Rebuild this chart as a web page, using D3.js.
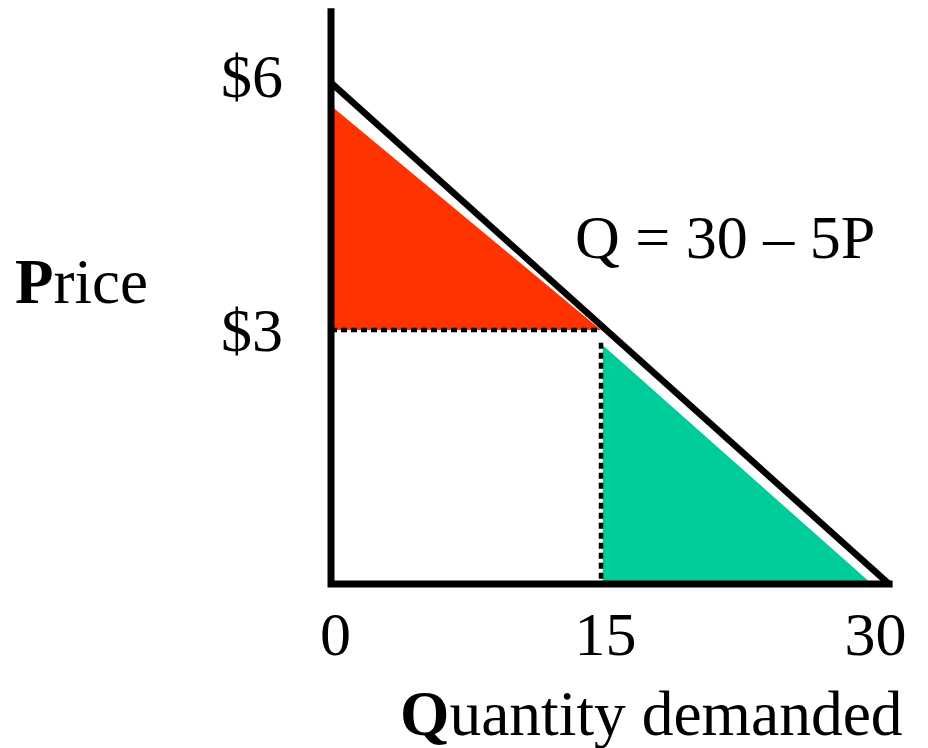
<!DOCTYPE html>
<html>
<head>
<meta charset="utf-8">
<script src="https://cdn.jsdelivr.net/npm/d3@7"></script>
<style>
  body { margin: 0; background: #fff; }
  svg text { font-family: "Liberation Serif", "Times New Roman", serif; fill: #000; }
</style>
</head>
<body>
<svg class="demand" width="928" height="748"></svg>
<script>
// demand curve Q = 30 - 5P, values in (quantity, price)
var demandLine = [{q: 0, p: 5.92}, {q: 31, p: 0}];
var consumerSurplus = [{q: 0, p: 5.65}, {q: 15, p: 3}, {q: 0, p: 3}];
var deadweightArea = [{q: 15.1, p: 2.82}, {q: 15.1, p: 0}, {q: 30.05, p: 0}];
var priceLine = [{q: 0, p: 3}, {q: 15, p: 3}];
var quantityLine = [{q: 15, p: 2.85}, {q: 15, p: 0}];
var priceTicks = [6, 3];
var priceTickLabels = ['$6', '$3'];
var qtyTicks = [0, 15, 30];
var axisTop = 6.8, axisRight = 31.2;

var svg = d3.select('svg.demand');

// scales
var xScale = d3.scaleLinear().domain([0, 30]).range([331, 871]);
var yScale = d3.scaleLinear().domain([0, 6]).range([584, 76]);

var line = d3.line()
    .x(function(d) { return xScale(d.q); })
    .y(function(d) { return yScale(d.p); });

// shaded areas
svg.append('path')
    .attr('d', line(consumerSurplus) + 'Z')
    .attr('fill', '#FF3300');
svg.append('path')
    .attr('d', line(deadweightArea) + 'Z')
    .attr('fill', '#00CC99');

// dotted guides
[priceLine, quantityLine].forEach(function(seg) {
  svg.append('path')
      .attr('d', line(seg))
      .attr('fill', 'none')
      .attr('stroke', '#000')
      .attr('stroke-width', 4.5)
      .attr('stroke-dasharray', '6,4');
});

// demand line
svg.append('path')
    .attr('d', line(demandLine))
    .attr('fill', 'none')
    .attr('stroke', '#000')
    .attr('stroke-width', 6.5);

// axes lines
svg.append('path')
    .attr('d', line([{q: 0, p: axisTop}, {q: 0, p: 0}, {q: axisRight, p: 0}]))
    .attr('fill', 'none')
    .attr('stroke', '#000')
    .attr('stroke-width', 7)
    .attr('stroke-linejoin', 'miter');

// y ticks
var yAxisG = svg.append('g')
    .attr('transform', 'translate(' + xScale(0) + ',0)')
    .call(d3.axisLeft(yScale)
        .tickValues(priceTicks)
        .tickSize(0)
        .tickPadding(48)
        .tickFormat(function(d, i) { return priceTickLabels[i]; }));
yAxisG.select('.domain').remove();
yAxisG.selectAll('text')
    .attr('font-size', 62)
    .attr('font-family', '"Liberation Serif", serif')
    .attr('dy', '0.33em');

// x ticks
var xAxisG = svg.append('g')
    .attr('transform', 'translate(4,' + yScale(0) + ')')
    .call(d3.axisBottom(xScale)
        .tickValues(qtyTicks)
        .tickSize(0));
xAxisG.select('.domain').remove();
xAxisG.selectAll('text')
    .attr('font-size', 62)
    .attr('font-family', '"Liberation Serif", serif')
    .attr('y', 71)
    .attr('dy', null);

// labels
var priceLabel = svg.append('text')
    .attr('x', 15).attr('y', 303)
    .attr('font-size', 63);
priceLabel.append('tspan').attr('font-weight', 'bold').text('P');
priceLabel.append('tspan').text('rice');

var qtyLabel = svg.append('text')
    .attr('x', 400).attr('y', 735)
    .attr('font-size', 63.5);
qtyLabel.append('tspan').attr('font-weight', 'bold').text('Q');
qtyLabel.append('tspan').text('uantity demanded');

svg.append('text')
    .attr('x', 575).attr('y', 258)
    .attr('font-size', 62)
    .text('Q = 30 \u2013 5P');
</script>
</body>
</html>
